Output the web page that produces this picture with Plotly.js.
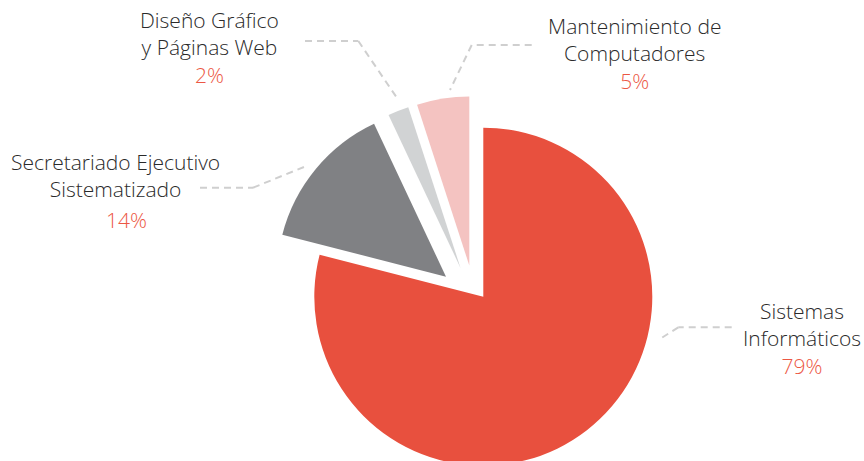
<!DOCTYPE html>
<html>
<head>
<meta charset="utf-8">
<script src="https://cdn.plot.ly/plotly-3.0.1.min.js"></script>
<style>
  html, body { margin: 0; padding: 0; overflow: hidden; background: #ffffff; }
  #chart { width: 864px; height: 470px; }
</style>
</head>
<body>
<div id="chart"></div>
<script>
// ---- data ----
const categories = ['Sistemas Informáticos', 'Secretariado Ejecutivo Sistematizado', 'Diseño Gráfico y Páginas Web', 'Mantenimiento de Computadores'];
const labelLines = [['Sistemas', 'Informáticos'], ['Secretariado Ejecutivo', 'Sistematizado'], ['Diseño Gráfico', 'y Páginas Web'], ['Mantenimiento de', 'Computadores']];
const values = [79, 14, 2, 5];
const colors = ['#E8503E', '#808184', '#D1D3D4', '#F4C3C1'];

// ---- layout helpers (positions only) ----
const W = 864, H = 470, R = 169;
const center = [483.3, 296.7];
// per-slice explode offsets in px (slice apex relative to pie centre)
const explode = [[0, 0], [-37.3, -20], [-22.8, -28.8], [-14, -31.2]];
// label placement: centre x, first baseline, whether % sits in the same block, separate % position
const labelPos = [
  {x: 802, y1: 319.7, pctInline: true},
  {x: 115, y1: 169.7, pctInline: false, px: 127, py: 228},
  {x: 209, y1: 28.2, pctInline: true},
  {x: 634, y1: 34.2, pctInline: true}
];
// leader lines (polyline points in px)
const leaders = [
  [[731.7, 327.3], [678.3, 327.3], [658.3, 340]],
  [[200, 187.7], [253, 187.7], [306.5, 166]],
  [[305, 41], [358.3, 41], [397.7, 99]],
  [[531.7, 45], [471.7, 45], [450, 90]]
];

const px = x => x / W;
const py = y => 1 - y / H;

const traces = values.map((v, i) => {
  const cx = center[0] + explode[i][0];
  const cy = center[1] + explode[i][1];
  return {
    type: 'pie',
    labels: categories,
    values: values,
    sort: false,
    direction: 'clockwise',
    rotation: 0,
    marker: {
      colors: colors.map((c, j) => j === i ? c : 'rgba(0,0,0,0)'),
      line: {width: 0}
    },
    textinfo: 'none',
    hoverinfo: 'skip',
    showlegend: false,
    domain: {
      x: [(cx - R) / W, (cx + R) / W],
      y: [(H - cy - R) / H, (H - cy + R) / H]
    }
  };
});

const FONT = 'Open Sans, Noto Sans, sans-serif';
const FS = 21;
const LH = 1.3 * FS;
const TXT = '#2a2a2a';
const PCT = '#EC5744';
const annotations = [];
labelLines.forEach((lines, i) => {
  const p = labelPos[i];
  const parts = lines.slice();
  if (p.pctInline) parts.push('<span style="color:' + PCT + '">' + values[i] + '%</span>');
  const n = parts.length;
  const lastBase = p.y1 + (n - 1) * LH;
  const mid = (p.y1 + lastBase) / 2 - 0.388 * FS;
  annotations.push({
    text: parts.join('<br>'), xref: 'paper', yref: 'paper',
    x: px(p.x), y: py(mid), align: 'center',
    xanchor: 'center', yanchor: 'middle', showarrow: false,
    font: {family: FONT, size: FS, color: TXT, weight: 300}
  });
  if (!p.pctInline) {
    annotations.push({
      text: values[i] + '%', xref: 'paper', yref: 'paper',
      x: px(p.px), y: py(p.py - 0.388 * FS),
      xanchor: 'center', yanchor: 'middle', showarrow: false,
      font: {family: FONT, size: FS, color: PCT, weight: 300}
    });
  }
});

const shapes = [];
leaders.forEach(pts => {
  for (let k = 0; k < pts.length - 1; k++) {
    shapes.push({
      type: 'line', xref: 'paper', yref: 'paper',
      x0: px(pts[k][0]), y0: py(pts[k][1]),
      x1: px(pts[k + 1][0]), y1: py(pts[k + 1][1]),
      line: {color: '#CFCFCF', width: 2, dash: '7px,5px'}
    });
  }
});

const layout = {
  width: W, height: H,
  margin: {l: 0, r: 0, t: 0, b: 0},
  paper_bgcolor: '#ffffff',
  showlegend: false,
  annotations: annotations,
  shapes: shapes
};

Plotly.newPlot('chart', traces, layout, {staticPlot: true, displayModeBar: false});
</script>
</body>
</html>
